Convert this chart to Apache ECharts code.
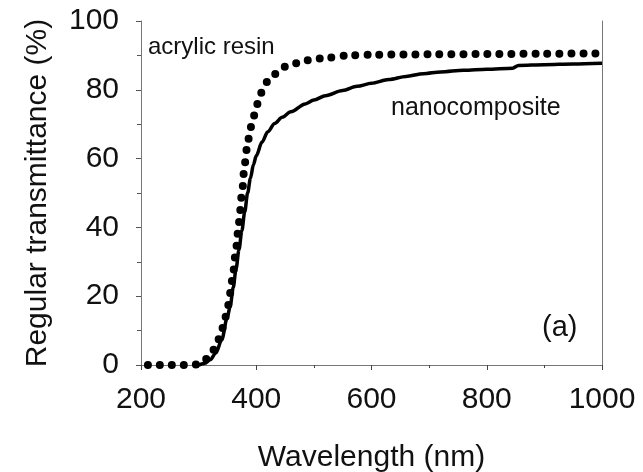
<!DOCTYPE html>
<html>
<head>
<meta charset="utf-8">
<script src="https://cdn.jsdelivr.net/npm/echarts@6/dist/echarts.min.js"></script>
<style>
  html, body { margin: 0; padding: 0; background: #fff; }
  #chart { width: 643px; height: 472px; }
</style>
</head>
<body>
<div id="chart"></div>
<script>
// wavelength (nm) / regular transmittance (%)
var acrylicWl = [212, 230, 250, 270, 290, 300, 310, 320, 330, 340, 345, 350, 355, 360, 365, 370, 375, 380, 385, 390, 395, 400, 405, 410, 420, 430, 440, 450, 470, 490, 520, 560, 600, 700, 800, 900, 1000];
var acrylicT  = [0, 0, 0, 0, 0, 0.3, 1.3, 3, 5.3, 10, 13, 16.3, 21, 27, 34, 41.5, 49.5, 58.5, 64.5, 69, 72, 75, 77.5, 79.5, 82.5, 84.3, 85.6, 86.7, 87.7, 88.6, 89.3, 90, 90.2, 90.3, 90.4, 90.5, 90.6];

var nanoWl = [300, 311, 320, 330, 340, 350, 355, 360, 365, 370, 375, 380, 385, 390, 395, 400, 410, 420, 432, 445, 460, 485, 500, 520, 550, 575, 600, 630, 660, 690, 720, 760, 800, 845, 855, 900, 950, 1000];
var nanoT  = [0, 0.5, 1.5, 3.5, 7.3, 14, 17.3, 22.5, 28, 33.5, 39, 44.5, 50, 54.3, 58.2, 60.8, 64.8, 67.8, 70.2, 72, 73.6, 75.9, 77, 78.3, 79.8, 81, 81.9, 83, 83.9, 84.7, 85.2, 85.7, 86, 86.3, 87.1, 87.3, 87.5, 87.7];

var xTicks = [200, 400, 600, 800, 1000];
var yTicks = [0, 20, 40, 60, 80, 100];

function pairs(xs, ys) {
    var out = [];
    for (var i = 0; i < xs.length; i++) {
        out.push([xs[i], ys[i]]);
    }
    return out;
}

var font = 'Liberation Sans, Arial, sans-serif';
var chart = echarts.init(document.getElementById('chart'));

var option = {
    animation: false,
    backgroundColor: '#fff',
    grid: { left: 141, right: 41, top: 21, bottom: 107, outerBoundsMode: 'none', containLabel: false },
    xAxis: [{
        type: 'value',
        min: xTicks[0],
        max: xTicks[xTicks.length - 1],
        interval: 200,
        name: 'Wavelength (nm)',
        nameLocation: 'middle',
        nameGap: 78,
        nameTextStyle: { fontFamily: font, fontSize: 30, color: '#111' },
        axisLine: { lineStyle: { color: '#444', width: 1, type: [3, 2] } },
        axisTick: { inside: false, length: 5, lineStyle: { color: '#444' } },
        minorTick: { show: true, splitNumber: 2, length: 3, lineStyle: { color: '#444' } },
        splitLine: { show: false },
        axisLabel: {
            fontFamily: font, fontSize: 30, color: '#111', margin: 20,
            formatter: function (v) { return String(v); }
        }
    }, {
        type: 'value',
        position: 'top',
        min: xTicks[0],
        max: xTicks[xTicks.length - 1],
        axisLine: { show: true, lineStyle: { color: '#777', width: 1 } },
        axisTick: { show: false },
        axisLabel: { show: false },
        splitLine: { show: false }
    }],
    yAxis: [{
        type: 'value',
        min: yTicks[0],
        max: yTicks[yTicks.length - 1],
        interval: 20,
        name: 'Regular transmittance (%)',
        nameLocation: 'middle',
        nameGap: 88,
        nameTextStyle: { fontFamily: font, fontSize: 30, color: '#111' },
        axisLine: { show: true, lineStyle: { color: '#777', width: 1 } },
        axisTick: { length: 5, lineStyle: { color: '#555' } },
        minorTick: { show: true, splitNumber: 2, length: 4, lineStyle: { color: '#555' } },
        splitLine: { show: false },
        axisLabel: { fontFamily: font, fontSize: 30, color: '#111', margin: 22 }
    }, {
        type: 'value',
        position: 'right',
        min: yTicks[0],
        max: yTicks[yTicks.length - 1],
        axisLine: { show: true, lineStyle: { color: '#777', width: 1 } },
        axisTick: { show: false },
        axisLabel: { show: false },
        splitLine: { show: false }
    }],
    series: [{
        name: 'nanocomposite',
        type: 'line',
        data: pairs(nanoWl, nanoT),
        showSymbol: false,
        smooth: 0.3,
        smoothMonotone: 'x',
        clip: false,
        lineStyle: { color: '#000', width: 3.5 }
    }, {
        name: 'acrylic resin',
        type: 'line',
        data: pairs(acrylicWl, acrylicT),
        showSymbol: false,
        smooth: 0.3,
        smoothMonotone: 'x',
        clip: false,
        lineStyle: { color: '#000', width: 8, type: [0, 12], cap: 'round' }
    }],
    graphic: [{
        type: 'text', left: 148, top: 35,
        style: { text: 'acrylic resin', font: '24px ' + font, fill: '#111' }
    }, {
        type: 'text', left: 391, top: 96,
        style: { text: 'nanocomposite', font: '25px ' + font, fill: '#111' }
    }, {
        type: 'text', left: 542, top: 313,
        style: { text: '(a)', font: '29px ' + font, fill: '#111' }
    }]
};

chart.setOption(option);
</script>
</body>
</html>
